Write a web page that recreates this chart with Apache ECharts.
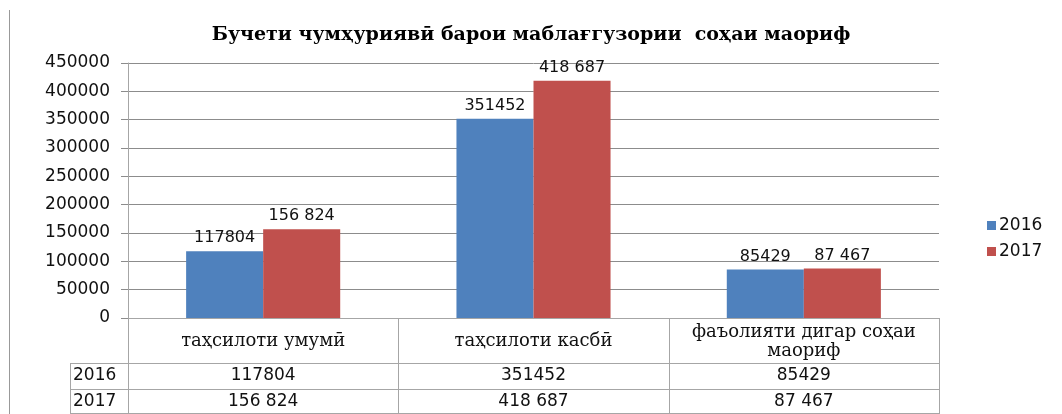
<!DOCTYPE html>
<html>
<head>
<meta charset="utf-8">
<script src="https://cdn.jsdelivr.net/npm/echarts@6/dist/echarts.min.js"></script>
<style>
  html, body { margin: 0; padding: 0; background: #fff; }
  #chart { width: 1062px; height: 414px; }
</style>
</head>
<body>
<div id="chart"></div>
<script>
// data
const categories = ['таҳсилоти умумӣ', 'таҳсилоти касбӣ', 'фаъолияти дигар соҳаи\nмаориф'];
const seriesNames = ['2016', '2017'];
const values2016 = [117804, 351452, 85429];
const values2017 = [156824, 418687, 87467];
const yTicks = [0, 50000, 100000, 150000, 200000, 250000, 300000, 350000, 400000, 450000];

const titleText = 'Бучети чумҳуриявӣ барои маблағгузории  соҳаи маориф';

// 2017 values are written with a space between thousands, 2016 without
const fmt = (v, grouped) => grouped ? String(v).replace(/\B(?=(\d{3})+(?!\d))/g, ' ') : String(v);

const W = 1062, H = 414;
const grid = { left: 128, right: 123, top: 63, bottom: 96 };
const plotLeft = grid.left, plotRight = W - grid.right, plotBottom = H - grid.bottom;
const colW = (plotRight - plotLeft) / categories.length;
const tableLeft = 70;
const rowY = [plotBottom, 363, 389, 414];
const borderColor = '#a6a6a6';
const numFont = '17px "DejaVu Sans"';
const catFont = '18px "DejaVu Serif"';

const chart = echarts.init(document.getElementById('chart'));

const graphics = [];
// outer frame line on the left
graphics.push({ type: 'line', shape: { x1: 9.5, y1: 10, x2: 9.5, y2: H }, style: { stroke: '#999', lineWidth: 1 } });

// data table borders
for (let i = 0; i <= categories.length; i++) {
  const x = Math.round(plotLeft + colW * i) + 0.5;
  graphics.push({ type: 'line', shape: { x1: x, y1: rowY[0], x2: x, y2: H }, style: { stroke: borderColor, lineWidth: 1 } });
}
graphics.push({ type: 'line', shape: { x1: tableLeft + 0.5, y1: rowY[1], x2: tableLeft + 0.5, y2: H }, style: { stroke: borderColor, lineWidth: 1 } });
[rowY[1], rowY[2], rowY[3] - 1].forEach(y => {
  graphics.push({ type: 'line', shape: { x1: tableLeft, y1: y + 0.5, x2: plotRight + 1, y2: y + 0.5 }, style: { stroke: borderColor, lineWidth: 1 } });
});

// table text
categories.forEach((c, i) => {
  const cx = plotLeft + colW * (i + 0.5);
  graphics.push({
    type: 'text',
    style: { text: c, x: cx, y: (rowY[0] + rowY[1]) / 2 + 1, font: catFont, fill: '#111',
      textAlign: 'center', textVerticalAlign: 'middle', align: 'center', verticalAlign: 'middle', lineHeight: 19 }
  });
  [values2016, values2017].forEach((vals, r) => {
    graphics.push({
      type: 'text',
      style: { text: fmt(vals[i], r === 1), x: cx, y: (rowY[r + 1] + rowY[r + 2]) / 2, font: numFont, fill: '#111',
        textAlign: 'center', textVerticalAlign: 'middle', align: 'center', verticalAlign: 'middle' }
    });
  });
});
seriesNames.forEach((n, r) => {
  graphics.push({
    type: 'text',
    style: { text: n, x: tableLeft + 3, y: (rowY[r + 1] + rowY[r + 2]) / 2, font: numFont, fill: '#111',
      textAlign: 'left', textVerticalAlign: 'middle', align: 'left', verticalAlign: 'middle' }
  });
});

const labelStyle = { show: true, position: 'top', distance: 5, fontFamily: 'DejaVu Sans', fontSize: 16, color: '#111' };

const option = {
  animation: false,
  backgroundColor: '#fff',
  title: {
    text: titleText,
    left: 'center',
    top: 21,
    textStyle: { fontFamily: 'DejaVu Serif', fontWeight: 'bold', fontSize: 19, color: '#000' }
  },
  legend: {
    orient: 'vertical',
    left: 982,
    top: 212,
    itemWidth: 9,
    itemHeight: 9,
    itemGap: 9,
    icon: 'rect',
    textStyle: { fontFamily: 'DejaVu Sans', fontSize: 17, color: '#111', padding: [0, 0, 0, -2] },
    data: seriesNames
  },
  grid: grid,
  xAxis: {
    type: 'category',
    data: categories,
    axisLine: { show: true, lineStyle: { color: borderColor } },
    axisTick: { show: false },
    axisLabel: { show: false },
    splitLine: { show: false }
  },
  yAxis: {
    type: 'value',
    min: yTicks[0],
    max: yTicks[yTicks.length - 1],
    interval: yTicks[1] - yTicks[0],
    axisLine: { show: true, lineStyle: { color: borderColor } },
    axisTick: { show: true, length: 7, lineStyle: { color: '#8c8c8c' } },
    axisLabel: { fontFamily: 'DejaVu Sans', fontSize: 17, color: '#111', margin: 18, formatter: v => String(v) },
    splitLine: { lineStyle: { color: '#8c8c8c' } }
  },
  series: [
    {
      name: seriesNames[0],
      type: 'bar',
      data: values2016,
      barGap: '0%',
      barCategoryGap: '43%',
      itemStyle: { color: '#4f81bd' },
      label: Object.assign({}, labelStyle, { formatter: p => fmt(p.value, false) })
    },
    {
      name: seriesNames[1],
      type: 'bar',
      data: values2017,
      barGap: '0%',
      barCategoryGap: '43%',
      itemStyle: { color: '#c0504d' },
      label: Object.assign({}, labelStyle, { formatter: p => fmt(p.value, true) })
    }
  ],
  graphic: graphics
};

chart.setOption(option);
</script>
</body>
</html>
